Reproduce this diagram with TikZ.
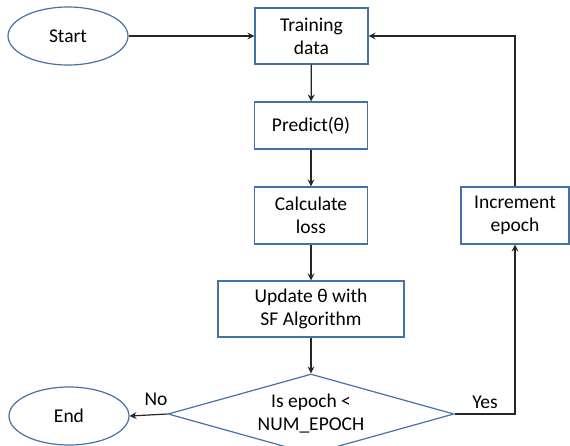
\documentclass[tikz,border=0pt]{standalone}
\usepackage{fontspec}
\setmainfont{Carlito}
\usetikzlibrary{shapes.geometric,arrows.meta}
\definecolor{boxblue}{RGB}{68,114,166}
\begin{document}
\begin{tikzpicture}[x=1pt,y=-1pt,
 font=\fontsize{19.5}{23}\selectfont,
 box/.style={draw=boxblue,line width=1.2pt,rectangle,inner sep=0pt,align=center,text=black},
 term/.style={draw=boxblue,line width=1.2pt,ellipse,inner sep=0pt,minimum width=120pt,minimum height=58pt},
 flow/.style={draw=black!85,line width=1.2pt,-{Stealth[length=7pt,width=7pt,inset=2.5pt]}},
 lbl/.style={inner sep=0pt,text=black}]
\useasboundingbox (0,0) rectangle (570,445);
\node[term] (start) at (68,36) {Start};
\node[box,minimum width=113pt,minimum height=56pt] (train) at (311.5,36) {Training\\data};
\node[box,minimum width=113pt,minimum height=47pt] (pred) at (311,125.5) {Predict(θ)};
\node[box,minimum width=113pt,minimum height=57pt] (calc) at (311,215.5) {Calculate\\loss};
\node[box,minimum width=186pt,minimum height=56pt] (upd) at (311,309) {Update θ with\\SF Algorithm};
\node[diamond,draw=boxblue,line width=1.2pt,aspect=3.575,minimum width=286pt,minimum height=80pt,inner sep=0pt,align=center] (dec) at (311,414) {Is epoch <\\NUM\_EPOCH};
\node[term] (end) at (69,416) {End};
\node[box,minimum width=108pt,minimum height=57pt] (inc) at (515,215.5) {Increment\\epoch};
\node[lbl] (no) at (156,399) {No};
\node[lbl] (yes) at (485,402) {Yes};
\draw[flow] (start) -- (train);
\draw[flow] (train) -- (pred);
\draw[flow] (pred) -- (calc);
\draw[flow] (calc) -- (upd);
\draw[flow] (upd) -- (dec);
\draw[flow] (dec.west) -- (end.east);
\draw[flow] (dec.east) -| (inc.south);
\draw[flow] (inc.north) |- (train.east);
\end{tikzpicture}
\end{document}
